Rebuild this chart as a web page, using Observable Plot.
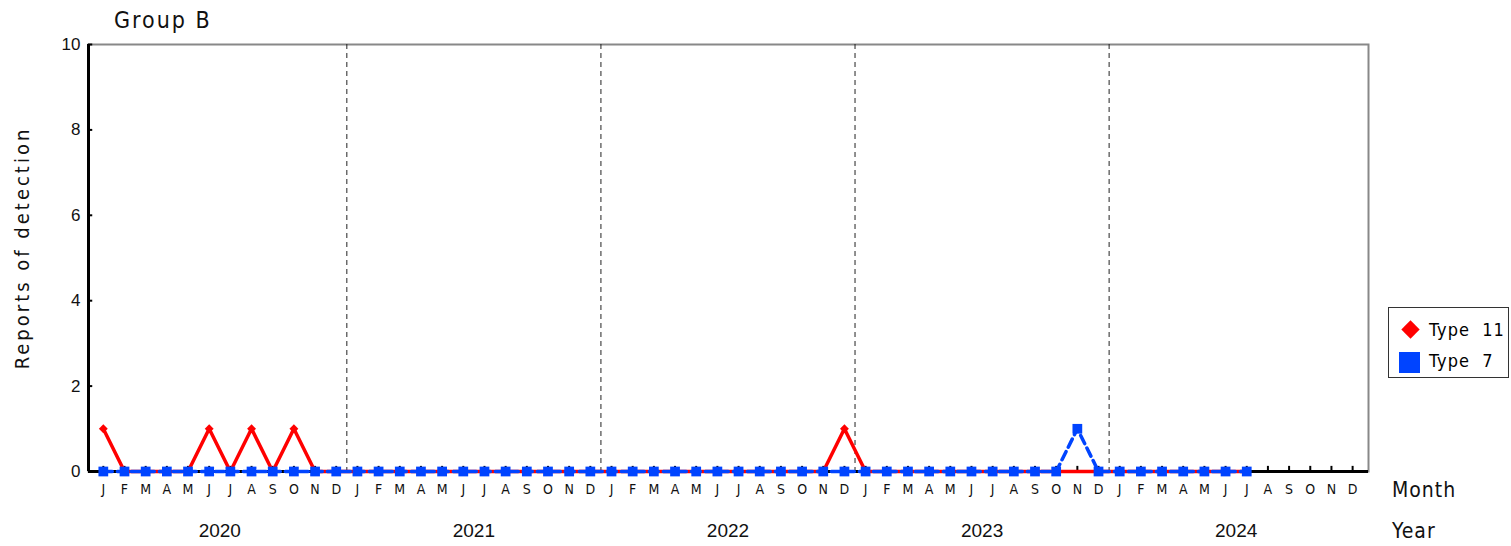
<!DOCTYPE html>
<html><head><meta charset="utf-8">
<script src="https://cdn.jsdelivr.net/npm/d3@7"></script>
<script src="https://cdn.jsdelivr.net/npm/@observablehq/plot@0.6"></script>
<style>
body{margin:0;background:#fff;font-family:"Liberation Sans",Arial,sans-serif;}
#wrap{position:relative;width:1511px;height:546px;}
.ov{position:absolute;color:#111;white-space:nowrap;}
#legend{position:absolute;left:1388px;top:307px;width:121px;height:71px;border:1px solid #333;background:#fff;box-sizing:border-box;}
.li{position:absolute;left:0;font-size:18px;font-family:"DejaVu Sans Condensed","DejaVu Sans",sans-serif;}
</style></head><body>
<div id="wrap"></div>
<script>
const years = [2020, 2021, 2022, 2023, 2024];
const monthLetters = ["J","F","M","A","M","J","J","A","S","O","N","D"];
// monthly values Jan 2020 .. Jul 2024 (55 months)
const type11 = [1,0,0,0,0,1,0,1,0,1,0,0, 0,0,0,0,0,0,0,0,0,0,0,0, 0,0,0,0,0,0,0,0,0,0,0,1, 0,0,0,0,0,0,0,0,0,0,0,0, 0,0,0,0,0,0,0];
const type7  = [0,0,0,0,0,0,0,0,0,0,0,0, 0,0,0,0,0,0,0,0,0,0,0,0, 0,0,0,0,0,0,0,0,0,0,0,0, 0,0,0,0,0,0,0,0,0,0,1,0, 0,0,0,0,0,0,0];
const yTicks = [0,2,4,6,8,10];

const nMonths = years.length * 12;
const monthIdx = d3.range(nMonths);
const d11 = type11.map((v,i)=>({i, v}));
const d7 = type7.map((v,i)=>({i, v}));
const yearSeps = years.slice(0,-1).map((y,k)=>12*k+11.5);
const yearCenters = years.map((y,k)=>12*k+5.5);
const xDom = [-0.7, nMonths - 0.25];

const chart = Plot.plot({
  width: 1511, height: 546,
  marginLeft: 88, marginRight: 143, marginTop: 44, marginBottom: 75,
  x: {domain: xDom, axis: null},
  y: {domain: [0,10], axis: null},
  style: {fontFamily: '"Liberation Sans", Arial, sans-serif', background: "#fff", color: "#111"},
  marks: [
    Plot.frame({stroke: "#888", strokeWidth: 2}),
    Plot.ruleX(yearSeps, {stroke: "#222", strokeWidth: 1, strokeDasharray: "5,4"}),
    Plot.ruleY([0], {stroke: "#000", strokeWidth: 3}),
    Plot.ruleX([xDom[0]], {stroke: "#000", strokeWidth: 3}),
    Plot.ruleX(monthIdx, {x: d=>d, y1: 0, y2: 0.12, stroke: "#000", strokeWidth: 2}),
    Plot.ruleY(yTicks, {y: d=>d, x1: xDom[0], x2: xDom[0]+0.2, stroke: "#000", strokeWidth: 2}),
    Plot.axisY({ticks: yTicks, tickSize: 0, tickPadding: 8, fontSize: 17, label: null}),
    Plot.axisX({ticks: monthIdx, tickSize: 0, tickPadding: 13, fontSize: 14, label: null,
      tickFormat: d => monthLetters[d % 12], fontFamily: '"DejaVu Sans Condensed","DejaVu Sans",sans-serif'}),
    Plot.axisX({ticks: yearCenters, tickSize: 0, tickPadding: 52, fontSize: 19, label: null,
      tickFormat: d => String(years[Math.floor(d/12)])}),
    Plot.line(d11, {x: "i", y: "v", stroke: "#ff0000", strokeWidth: 3.5}),
    Plot.dot(d11.filter(d=>d.v>0), {x: "i", y: "v", symbol: "diamond2", r: 4, fill: "#ff0000"}),
    Plot.line(d7, {x: "i", y: "v", stroke: "#0044ff", strokeWidth: 3.5, strokeDasharray: "9,5"}),
    Plot.dot(d7, {x: "i", y: "v", symbol: "square", r: 5.5, fill: "#0044ff"})
  ]
});
const wrap = document.getElementById("wrap");
wrap.appendChild(chart);

function ov(text, left, top, size, extra) {
  const d = document.createElement("div");
  d.className = "ov"; d.textContent = text;
  d.style.left = left + "px"; d.style.top = top + "px"; d.style.fontSize = size + "px";
  d.style.fontFamily = '"DejaVu Sans Condensed","DejaVu Sans",sans-serif';
  if (extra) Object.assign(d.style, extra);
  wrap.appendChild(d);
  return d;
}
ov("Group B", 114, 7, 23, {letterSpacing: "2px"});
ov("Month", 1392, 478, 21, {letterSpacing: "1px"});
ov("Year", 1392, 519, 21, {letterSpacing: "1px"});
ov("Reports of detection", -108, 236, 20, {transform: "rotate(-90deg)", width: "260px", textAlign: "center", letterSpacing: "3px"});

const lg = document.createElement("div"); lg.id = "legend";
lg.innerHTML = `
<svg width="34" height="70" style="position:absolute;left:0;top:0">
  <rect x="15" y="15" width="13" height="13" fill="#ff0000" transform="rotate(45 21.5 21.5)"/>
  <rect x="10" y="44" width="21" height="21" fill="#0044ff"/>
</svg>
<div class="li" style="left:40px;top:11px;letter-spacing:1px">Type&nbsp;&nbsp;11</div>
<div class="li" style="left:40px;top:42px;letter-spacing:1px">Type&nbsp;&nbsp;7</div>`;
wrap.appendChild(lg);
</script>
</body></html>
